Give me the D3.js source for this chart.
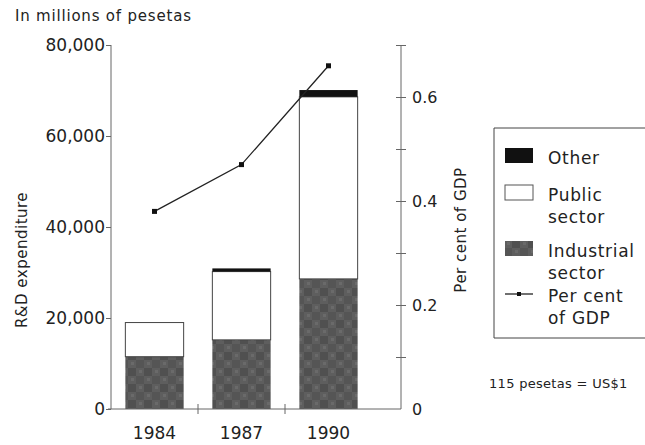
<!DOCTYPE html>
<html>
<head>
<meta charset="utf-8">
<script src="https://cdn.jsdelivr.net/npm/d3@7"></script>
<style>
  body { margin: 0; background: #fff; }
  text { font-family: "DejaVu Sans", Verdana, sans-serif; fill: #222; }
</style>
</head>
<body>
<svg id="chart" width="645" height="445"></svg>
<script>
// data (millions of pesetas)
var years = ["1984", "1987", "1990"];
var industrial = [11500, 15200, 28600];
var publicSector = [7500, 15000, 40000];
var other = [0, 700, 1500];
var gdpShare = [0.38, 0.47, 0.66];
var leftTicks = [0, 20000, 40000, 60000, 80000];
var rightTicks = [0, 0.2, 0.4, 0.6];

var svg = d3.select("#chart");
var axisCol = "#666";
var font = "DejaVu Sans, Verdana, sans-serif";

var x = d3.scaleBand().domain(years).range([111, 372]).paddingInner(0.33).paddingOuter(0.165);
var y = d3.scaleLinear().domain([0, 80000]).range([409, 45]);
var y2 = d3.scaleLinear().domain([0, 0.7]).range([409, 45]);

// texture for the industrial sector
var defs = svg.append("defs");
var pat = defs.append("pattern").attr("id", "ind").attr("patternUnits", "userSpaceOnUse")
  .attr("width", 16).attr("height", 16);
pat.append("rect").attr("width", 16).attr("height", 16).attr("fill", "#5e5e5e");
pat.append("rect").attr("x", 0).attr("y", 0).attr("width", 8).attr("height", 8).attr("fill", "#505050");
pat.append("rect").attr("x", 8).attr("y", 8).attr("width", 8).attr("height", 8).attr("fill", "#555");
pat.append("rect").attr("x", 3).attr("y", 10).attr("width", 3).attr("height", 3).attr("fill", "#6a6a6a");
pat.append("rect").attr("x", 11).attr("y", 2).attr("width", 3).attr("height", 3).attr("fill", "#6a6a6a");

var stacked = years.map(function(d, i) {
  return { year: d, ind: industrial[i], pub: publicSector[i], oth: other[i] };
});

var bars = svg.selectAll(".bar").data(stacked).enter().append("g");
bars.append("rect")
  .attr("x", function(d) { return x(d.year); })
  .attr("width", x.bandwidth())
  .attr("y", function(d) { return y(d.ind); })
  .attr("height", function(d) { return y(0) - y(d.ind); })
  .attr("fill", "url(#ind)");
bars.append("rect")
  .attr("x", function(d) { return x(d.year); })
  .attr("width", x.bandwidth())
  .attr("y", function(d) { return y(d.ind + d.pub); })
  .attr("height", function(d) { return y(d.ind) - y(d.ind + d.pub); })
  .attr("fill", "#fff").attr("stroke", "#444").attr("stroke-width", 1);
bars.filter(function(d) { return d.oth > 0; }).append("rect")
  .attr("x", function(d) { return x(d.year); })
  .attr("width", x.bandwidth())
  .attr("y", function(d) { return y(d.ind + d.pub + d.oth); })
  .attr("height", function(d) { return y(d.ind + d.pub) - y(d.ind + d.pub + d.oth); })
  .attr("fill", "#111");

// left axis
var yAxis = d3.axisLeft(y).tickValues(leftTicks).tickSize(5).tickFormat(d3.format(","));
var gl = svg.append("g").attr("transform", "translate(111,0)").call(yAxis);
gl.select(".domain").attr("d", "M0,45V409");

// right axis, minor ticks every 0.1
var y2Axis = d3.axisRight(y2).tickValues(d3.range(0, 0.71, 0.1)).tickSize(0)
  .tickFormat(function(d) { return rightTicks.some(function(t) { return Math.abs(t - d) < 1e-6; }) ? (d === 0 ? "0" : d3.format(".1f")(d)) : ""; });
var gr = svg.append("g").attr("transform", "translate(401,0)").call(y2Axis);
gr.select(".domain").attr("d", "M0,45V409");
gr.selectAll(".tick line").attr("x1", -5).attr("x2", 5);
gr.selectAll(".tick").filter(function(d) { return d === 0; }).select("line").remove();

// bottom axis
var gb = svg.append("g").attr("transform", "translate(0,409)");
gb.append("line").attr("x1", 108).attr("x2", 401).attr("stroke", axisCol);
var step = x.step();
gb.selectAll(".sep").data(years.slice(0, 2)).enter().append("line")
  .attr("x1", function(d) { return x(d) + x.bandwidth() + step * 0.33 / 2; })
  .attr("x2", function(d) { return x(d) + x.bandwidth() + step * 0.33 / 2; })
  .attr("y1", -5).attr("y2", 5).attr("stroke", axisCol);
gb.selectAll(".yr").data(years).enter().append("text")
  .attr("x", function(d) { return x(d) + x.bandwidth() / 2; })
  .attr("y", 30).attr("text-anchor", "middle").attr("font-size", 17)
  .text(function(d) { return d; });

[gl, gr].forEach(function(g) {
  g.selectAll(".domain, .tick line").attr("stroke", axisCol);
  g.selectAll(".tick text").attr("fill", "#222").style("font-family", font);
});
gl.selectAll(".tick text").attr("x", -6).attr("font-size", 17);
gr.selectAll(".tick text").attr("x", 11).attr("font-size", 16);

// GDP line
var line = d3.line()
  .x(function(d, i) { return x(years[i]) + x.bandwidth() / 2; })
  .y(function(d) { return y2(d); });
svg.append("path").datum(gdpShare).attr("d", line).attr("fill", "none").attr("stroke", "#222").attr("stroke-width", 1.3);
svg.selectAll(".pt").data(gdpShare).enter().append("rect")
  .attr("x", function(d, i) { return x(years[i]) + x.bandwidth() / 2 - 2.5; })
  .attr("y", function(d) { return y2(d) - 2.5; })
  .attr("width", 5).attr("height", 5).attr("fill", "#111");

// titles
svg.append("text").attr("x", 15).attr("y", 21).attr("font-size", 15).attr("letter-spacing", 0.8)
  .text("In millions of pesetas");
svg.append("text").attr("transform", "translate(27,260) rotate(-90)").attr("text-anchor", "middle")
  .attr("font-size", 15).attr("letter-spacing", 0.5).text("R&D expenditure");
svg.append("text").attr("transform", "translate(466,230) rotate(-90)").attr("text-anchor", "middle")
  .attr("font-size", 15).attr("letter-spacing", 0.5).text("Per cent of GDP");

// legend
var lg = svg.append("g");
lg.append("path").attr("d", "M650,128H494V338H650").attr("fill", "none").attr("stroke", "#444");
var legendItems = [
  { type: "oth", lines: ["Other"], y: 148 },
  { type: "pub", lines: ["Public", "sector"], y: 185 },
  { type: "ind", lines: ["Industrial", "sector"], y: 241 },
  { type: "gdp", lines: ["Per cent", "of GDP"], y: 286 }
];
legendItems.forEach(function(it) {
  if (it.type === "gdp") {
    lg.append("line").attr("x1", 505).attr("x2", 533).attr("y1", it.y + 8).attr("y2", it.y + 8).attr("stroke", "#222").attr("stroke-width", 1.3);
    lg.append("rect").attr("x", 517).attr("y", it.y + 6).attr("width", 4).attr("height", 4).attr("fill", "#111");
  } else {
    lg.append("rect").attr("x", 505).attr("y", it.y).attr("width", 28).attr("height", 15)
      .attr("fill", it.type === "oth" ? "#111" : it.type === "pub" ? "#fff" : "url(#ind)")
      .attr("stroke", it.type === "pub" ? "#555" : "none");
  }
  it.lines.forEach(function(t, k) {
    lg.append("text").attr("x", 548).attr("y", it.y + 16 + k * 22).attr("font-size", 17)
      .attr("letter-spacing", 0.7).text(t);
  });
});

svg.append("text").attr("x", 489).attr("y", 388).attr("font-size", 13).attr("letter-spacing", 0.3)
  .text("115 pesetas = US$1");
</script>
</body>
</html>
